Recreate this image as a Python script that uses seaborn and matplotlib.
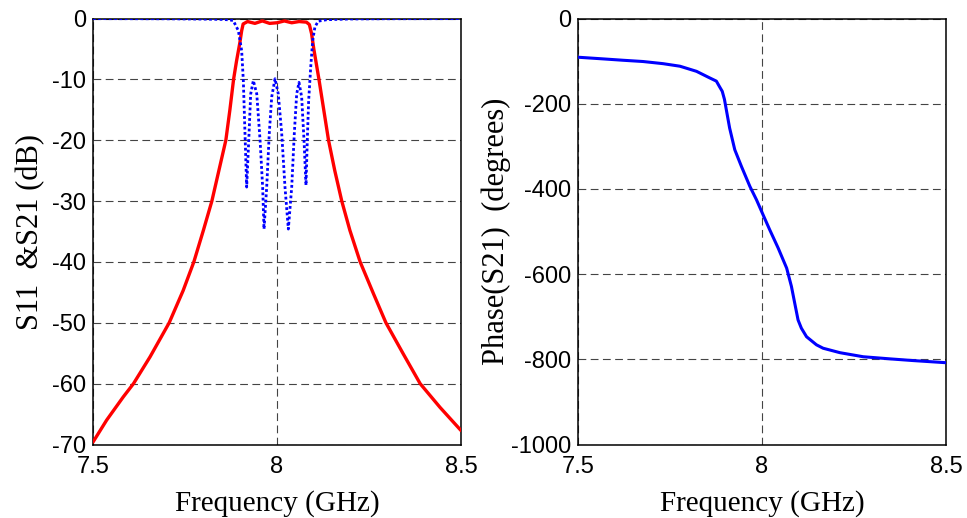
import numpy as np
import pandas as pd
import matplotlib
matplotlib.use("Agg")
import matplotlib.pyplot as plt
import seaborn as sns

# ---- data ----
freq_s21 = [7.500, 7.537, 7.582, 7.610, 7.655, 7.707, 7.745, 7.774, 7.800, 7.823,
            7.842, 7.861, 7.872, 7.882, 7.890, 7.899, 7.904, 7.908, 7.920, 7.940,
            7.960, 7.980, 8.000, 8.020, 8.040, 8.060, 8.080, 8.088, 8.094, 8.100,
            8.107, 8.114, 8.127, 8.140, 8.157, 8.176, 8.198, 8.226, 8.262, 8.296,
            8.343, 8.389, 8.443, 8.500]
s21_db = [-69.6, -66.0, -62.2, -60.0, -55.6, -50.0, -44.7, -40.0, -34.8, -30.0,
          -25.0, -20.0, -15.0, -10.0, -7.0, -4.0, -2.0, -0.9, -0.5, -0.8,
          -0.4, -0.8, -0.7, -0.4, -0.7, -0.5, -0.6, -1.0, -2.5, -5.0,
          -7.5, -10.0, -15.0, -20.0, -25.0, -30.0, -34.8, -40.0, -45.2, -50.0,
          -55.1, -60.0, -63.9, -67.7]

freq_s11 = [7.500, 7.700, 7.800, 7.850, 7.870, 7.881, 7.895, 7.904, 7.9085, 7.913,
            7.9176, 7.924, 7.9285, 7.9357, 7.945, 7.954, 7.961, 7.9647, 7.972, 7.979,
            7.9856, 7.9946, 8.0035, 8.0128, 8.0217, 8.0308, 8.040, 8.047, 8.0535, 8.0598,
            8.067, 8.0734, 8.0788, 8.0823, 8.086, 8.0916, 8.097, 8.103, 8.112, 8.135,
            8.200, 8.300, 8.500]
s11_db = [-0.02, -0.05, -0.1, -0.15, -0.22, -0.33, -2.0, -5.3, -10.2, -18.9,
          -27.7, -18.9, -12.4, -10.2, -12.4, -20.0, -27.7, -34.6, -27.7, -18.9,
          -12.9, -9.9, -12.4, -18.9, -27.7, -34.6, -27.7, -18.9, -12.4, -10.5,
          -12.9, -20.0, -27.4, -20.0, -13.5, -8.0, -3.6, -1.4, -0.44, -0.2,
          -0.08, -0.04, -0.02]

freq_phase = [7.500, 7.568, 7.622, 7.677, 7.731, 7.777, 7.822, 7.858, 7.876, 7.885,
              7.892, 7.898, 7.903, 7.912, 7.926, 7.944, 7.967, 7.985, 8.001, 8.021,
              8.044, 8.067, 8.080, 8.089, 8.098, 8.107, 8.121, 8.148, 8.166, 8.212,
              8.275, 8.348, 8.411, 8.500]
phase_deg = [-90.9, -94.8, -98.0, -101.0, -106.0, -112.0, -124.0, -139.5, -147.0, -160.7,
             -171.0, -190.0, -214.0, -257.0, -308.0, -347.0, -394.0, -425.5, -457.0, -496.0,
             -539.0, -586.0, -629.0, -668.5, -707.7, -727.0, -747.0, -766.0, -774.0, -784.5,
             -794.0, -799.0, -803.0, -808.0]

xticks = [7.5, 8.0, 8.5]
xtick_labels = ["7.5", "8", "8.5"]
yticks_left = [0, -10, -20, -30, -40, -50, -60, -70]
yticks_right = [0, -200, -400, -600, -800, -1000]

# ---- style ----
sns.set_theme(style="white")
plt.rcParams["font.family"] = ["Liberation Sans", "DejaVu Sans"]
plt.rcParams["axes.edgecolor"] = "black"
plt.rcParams["axes.labelcolor"] = "black"
plt.rcParams["text.color"] = "black"
plt.rcParams["axes.linewidth"] = 1.1

df21 = pd.DataFrame({"f": freq_s21, "v": s21_db})
df11 = pd.DataFrame({"f": freq_s11, "v": s11_db})
dfph = pd.DataFrame({"f": freq_phase, "v": phase_deg})

fig = plt.figure(figsize=(9.67, 5.18), dpi=100)
W, H = 967.0, 518.0
axL = fig.add_axes([93 / W, 73.5 / H, 368 / W, 426 / H])
axR = fig.add_axes([578 / W, 73.5 / H, 368 / W, 426 / H])

sns.lineplot(data=df21, x="f", y="v", ax=axL, color=(1, 0, 0), linewidth=2.4,
             estimator=None, sort=False, zorder=3)
sns.lineplot(data=df11, x="f", y="v", ax=axL, color=(0, 0, 1), linewidth=2.0,
             linestyle=(0, (1, 0.9)), estimator=None, sort=False, zorder=4)
sns.lineplot(data=dfph, x="f", y="v", ax=axR, color=(0, 0, 1), linewidth=2.2,
             estimator=None, sort=False, zorder=3)

xlabel_font = dict(family=["Liberation Serif", "DejaVu Serif"], size=21, color="black")
ylabel_font = dict(family=["Liberation Serif", "DejaVu Serif"], size=22, color="black")

for ax, yt, ylim, ylab, lpad in [
        (axL, yticks_left, (-70, 0), "S11  &S21 (dB)", 5),
        (axR, yticks_right, (-1000, 0), "Phase(S21)  (degrees)", 0)]:
    ax.set_xlim(7.5, 8.5)
    ax.set_ylim(*ylim)
    ax.set_xticks(xticks)
    ax.set_xticklabels(xtick_labels)
    ax.set_yticks(yt)
    ax.set_yticklabels([str(v) for v in yt])
    ax.tick_params(axis="both", direction="in", length=0, labelsize=17,
                   colors="black", labelcolor="black", pad=5)
    ax.tick_params(axis="x", pad=8)
    ax.grid(True, color="#444444", linestyle=(0, (7, 4)), linewidth=0.8)
    ax.set_axisbelow(True)
    ax.set_xlabel("Frequency (GHz)", fontdict=xlabel_font, labelpad=9)
    ax.set_ylabel(ylab, fontdict=ylabel_font, labelpad=lpad)
    for s in ax.spines.values():
        s.set_visible(True)
        s.set_color("black")
        s.set_linewidth(1.1)

fig.savefig("out.png", dpi=100)
